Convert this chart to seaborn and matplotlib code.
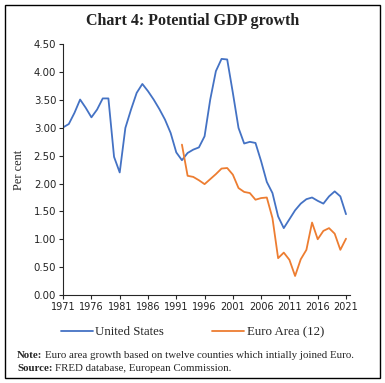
"""Chart 4: Potential GDP growth, United States vs Euro Area (12)."""

import matplotlib
matplotlib.use("Agg")
import matplotlib.pyplot as plt
import pandas as pd
import seaborn as sns
from matplotlib.patches import Rectangle

years_us = list(range(1971, 2022))
us_growth = [
    3.01, 3.07, 3.27, 3.51, 3.36, 3.19, 3.33, 3.53, 3.53, 2.48,
    2.20, 3.00, 3.33, 3.63, 3.79, 3.66, 3.51, 3.34, 3.15, 2.91,
    2.56, 2.42, 2.55, 2.61, 2.65, 2.85, 3.51, 4.02, 4.24, 4.23,
    3.63, 3.00, 2.72, 2.75, 2.73, 2.40, 2.03, 1.83, 1.41, 1.20,
    1.36, 1.52, 1.64, 1.72, 1.75, 1.69, 1.64, 1.77, 1.86, 1.77,
    1.45,
]

years_euro = list(range(1992, 2022))
euro_growth = [
    2.70, 2.14, 2.12, 2.06, 1.99, 2.08, 2.17, 2.27, 2.28, 2.16,
    1.92, 1.85, 1.83, 1.71, 1.74, 1.75, 1.38, 0.66, 0.76, 0.63,
    0.34, 0.64, 0.81, 1.30, 1.00, 1.15, 1.20, 1.10, 0.81, 1.01,
]

series_names = ["United States", "Euro Area (12)"]
series_colors = ["#4472C4", "#ED7D31"]
tick_years = list(range(1971, 2022, 5))
y_ticks = [i * 0.5 for i in range(10)]

df = pd.concat([
    pd.DataFrame({"year": years_us, "value": us_growth, "series": series_names[0]}),
    pd.DataFrame({"year": years_euro, "value": euro_growth, "series": series_names[1]}),
])

sns.set_style("ticks")
serif = ["Liberation Serif", "DejaVu Serif"]

fig = plt.figure(figsize=(3.85, 3.83), dpi=100)
ax = fig.add_axes([0.164, 0.230, 0.745, 0.654])

sns.lineplot(
    data=df, x="year", y="value", hue="series",
    palette=dict(zip(series_names, series_colors)),
    linewidth=1.3, ax=ax, legend=False,
)

ax.set_xlim(1971, 2021.7)
ax.set_ylim(0, 4.5)
ax.set_xticks(tick_years)
ax.set_xticklabels([str(y) for y in tick_years], fontsize=7, color="#222222")
ax.set_yticks(y_ticks)
ax.set_yticklabels([f"{v:.2f}" for v in y_ticks], fontsize=7.3, color="#222222")
ax.tick_params(axis="both", length=3, width=0.8, pad=2)
ax.set_xlabel("")
ax.set_ylabel("Per cent", fontsize=8.8, family=serif, labelpad=6)
sns.despine(ax=ax)
for side in ["left", "bottom"]:
    ax.spines[side].set_linewidth(0.8)

fig.text(0.5, 0.945, "Chart 4: Potential GDP growth", ha="center", va="center",
         fontsize=11.5, fontweight="bold", family=serif, color="#222222")

handles = [plt.Line2D([], [], color=c, lw=1.3) for c in series_colors]
fig.legend(handles, series_names, loc="center", bbox_to_anchor=(0.5, 0.132),
           ncol=2, frameon=False, handlelength=2.5, handletextpad=0.2,
           columnspacing=3.7, prop={"family": serif, "size": 9.3})

# note and source lines: bold lead-in followed by regular text
fig.canvas.draw()
renderer = fig.canvas.get_renderer()
for y, lead, rest in [
    (0.073, "Note:", "Euro area growth based on twelve counties which intially joined Euro."),
    (0.037, "Source:", "FRED database, European Commission."),
]:
    t = fig.text(0.044, y, lead, fontsize=7.8, fontweight="bold", family=serif, va="center")
    bb = t.get_window_extent(renderer).transformed(fig.transFigure.inverted())
    fig.text(bb.x1 + 0.006, y, rest, fontsize=7.8, family=serif, va="center")

fig.patches.append(Rectangle((0.013, 0.013), 0.974, 0.974, transform=fig.transFigure,
                             fill=False, edgecolor="black", linewidth=1.0))

fig.savefig("out.png", dpi=100)
plt.close(fig)
